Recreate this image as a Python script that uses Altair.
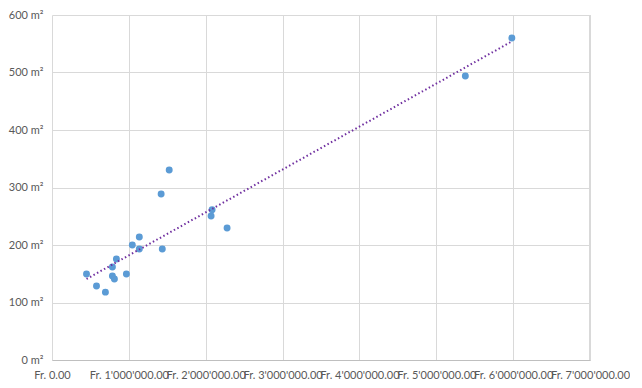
import altair as alt
import pandas as pd

price = [449000, 579000, 695000, 786000, 786000, 812000, 838000, 968000,
         1045000, 1136000, 1136000, 1420000, 1435000, 1525000, 2083000,
         2070000, 2278000, 5378000, 5983000]
area = [149.5, 128.7, 118, 161.7, 146, 140.9, 175.6, 149.5, 200, 213.9,
        193, 288.7, 193, 330.4, 261.4, 250.4, 229.6, 493.9, 560]

x_ticks = [0, 1000000, 2000000, 3000000, 4000000, 5000000, 6000000, 7000000]
y_ticks = [0, 100, 200, 300, 400, 500, 600]

df = pd.DataFrame({"price": price, "area": area})

FONT = "Lato"
TXT = "#595959"

x_enc = alt.X("price:Q", scale=alt.Scale(domain=[0, 7000000], nice=False, zero=True),
              axis=alt.Axis(values=x_ticks, title=None, grid=True, gridColor="#D9D9D9",
                            domain=True, domainColor="#BFBFBF", ticks=False,
                            labelPadding=9, labelFont=FONT, labelFontSize=11,
                            labelColor=TXT, labelOverlap=False, labelFlush=False,
                            labelExpr="datum.value == 0 ? 'Fr. 0.00' : 'Fr. ' + (datum.value/1000000) + \"'000'000.00\""))
y_enc = alt.Y("area:Q", scale=alt.Scale(domain=[0, 600], nice=False),
              axis=alt.Axis(values=y_ticks, title=None, grid=True, gridColor="#D9D9D9",
                            domain=False, ticks=False, labelPadding=9,
                            labelFont=FONT, labelFontSize=11, labelColor=TXT,
                            labelExpr="datum.value + ' m²'"))

points = alt.Chart(df).mark_circle(size=48, color="#5B9BD5", opacity=1).encode(x=x_enc, y=y_enc)

trend = alt.Chart(df).transform_regression("price", "area").mark_line(
    color="#7030A0", strokeWidth=2, strokeDash=[1.5, 2.5]).encode(x="price:Q", y="area:Q")

right_border = alt.Chart(df).mark_rule(color="#D9D9D9").encode(
    x=alt.datum(7000000))

chart = alt.layer(right_border, points, trend).properties(
    width=538, height=345,
    autosize=alt.AutoSizeParams(type="none"),
    padding={"left": 44, "top": 7, "right": 40, "bottom": 28},
).configure_view(stroke=None)

chart.save("out.html", embed_options={"renderer": "svg", "actions": False})
